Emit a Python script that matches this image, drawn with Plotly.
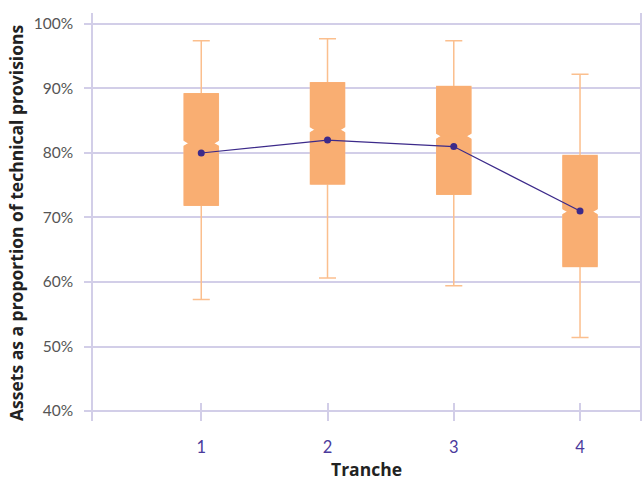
import plotly.graph_objects as go

tranches = [1, 2, 3, 4]
upper_whisker = [0.974, 0.977, 0.974, 0.922]
q3 = [0.892, 0.909, 0.903, 0.796]
median = [0.815, 0.836, 0.826, 0.709]
q1 = [0.719, 0.752, 0.736, 0.624]
lower_whisker = [0.573, 0.606, 0.594, 0.514]
mean = [0.80, 0.82, 0.81, 0.71]
y_ticks = [0.4, 0.5, 0.6, 0.7, 0.8, 0.9, 1.0]

box_fill = "#f9ae72"
whisker_col = "#fbbf8e"

fig = go.Figure()
for i, t in enumerate(tranches):
    # whiskers + box
    fig.add_trace(go.Box(
        x=[t], q1=[q1[i]], median=[median[i]], q3=[q3[i]],
        lowerfence=[lower_whisker[i]], upperfence=[upper_whisker[i]],
        notched=True, notchspan=[0.0045], notchwidth=0.15,
        width=0.27, whiskerwidth=0.5,
        fillcolor=box_fill, line=dict(color=whisker_col, width=1.5),
        boxpoints=False, showlegend=False, hoverinfo="skip",
    ))
    # solid notched body (hides the median line)
    fig.add_trace(go.Box(
        x=[t], q1=[q1[i]], median=[median[i]], q3=[q3[i]],
        lowerfence=[q1[i]], upperfence=[q3[i]],
        notched=True, notchspan=[0.0045], notchwidth=0.15,
        width=0.27, whiskerwidth=0,
        fillcolor=box_fill, line=dict(color=box_fill, width=1),
        boxpoints=False, showlegend=False, hoverinfo="skip",
    ))

fig.add_trace(go.Scatter(
    x=tranches, y=mean, mode="lines+markers",
    line=dict(color="#3c2a8a", width=1.2),
    marker=dict(color="#3c2a8a", size=7),
    showlegend=False,
))

grid = "#d2cee8"
fig.update_layout(
    width=642, height=481,
    margin=dict(l=93, r=2, t=13, b=60, autoexpand=False),
    plot_bgcolor="white", paper_bgcolor="white",
    font=dict(family="Lato", size=16, color="#555555"),
    boxmode="overlay",
    annotations=[dict(
        text="<b>Assets as a proportion of technical provisions</b>",
        xref="paper", yref="paper", x=-77 / 547, y=(421 - 223) / 408,
        xanchor="center", yanchor="middle", textangle=-90, showarrow=False,
        font=dict(family="Open Sans", color="#222222", size=17.5),
    )],
)
fig.update_xaxes(
    automargin=False,
    range=[0.1425, 4.475], tickvals=tranches, ticktext=[str(t) for t in tranches],
    showgrid=False, zeroline=False, showline=False,
    ticks="inside", ticklen=18, tickwidth=1.5, tickcolor=grid,
    tickfont=dict(color="#4b3a9c", size=16.5), ticklabelstandoff=14,
    title=dict(text="<b>Tranche</b>", font=dict(family="Open Sans", color="#222222", size=17.5), standoff=8),
)
fig.update_yaxes(
    automargin=False,
    range=[0.3845, 1.017], tickvals=y_ticks, tickformat=".0%",
    showgrid=True, gridcolor=grid, gridwidth=1.5, zeroline=False,
    showline=True, linecolor=grid, linewidth=1.5, mirror=True,
    ticks="outside", ticklen=7, tickwidth=1.5, tickcolor=grid,
    ticklabelstandoff=8,
    tickfont=dict(color="#555555", size=15.5),
)
fig.write_html("out.html", config={"displayModeBar": False},
               post_script="document.body.style.margin='0';")
